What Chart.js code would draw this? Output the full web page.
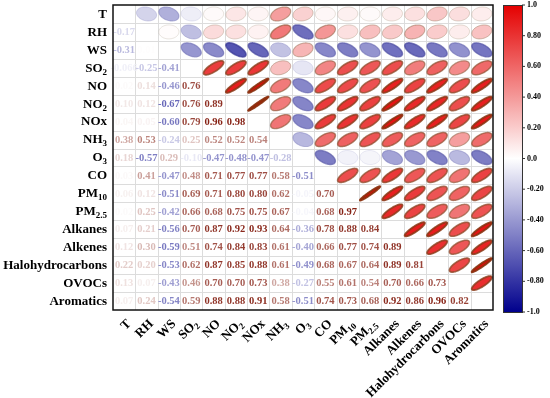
<!DOCTYPE html>
<html>
<head>
<meta charset="utf-8">
<script src="https://cdn.jsdelivr.net/npm/chart.js@4.4.1/dist/chart.umd.min.js"></script>
<style>
  html, body { margin: 0; padding: 0; background: #ffffff; }
  #wrap { width: 550px; height: 398px; }
</style>
</head>
<body>
<div id="wrap"><canvas id="c" width="550" height="398"></canvas></div>
<script>
// ---- data ----
const varNames = ['T','RH','WS','SO2','NO','NO2','NOx','NH3','O3','CO','PM10','PM2.5','Alkanes','Alkenes','Halohydrocarbons','OVOCs','Aromatics'];
const labelMain = ['T','RH','WS','SO','NO','NO','NOx','NH','O','CO','PM','PM','Alkanes','Alkenes','Halohydrocarbons','OVOCs','Aromatics'];
const labelSub  = ['','','','2','','2','','3','3','','10','2.5','','','','',''];

// lower triangle correlation rows (row i, columns 0..i-1)
const rowRH   = [-0.17];
const rowWS   = [-0.31, 0.01];
const rowSO2  = [-0.066, -0.25, -0.41];
const rowNO   = [0.02, 0.14, -0.46, 0.76];
const rowNO2  = [0.10, 0.12, -0.67, 0.76, 0.89];
const rowNOx  = [0.04, 0.05, -0.60, 0.79, 0.96, 0.98];
const rowNH3  = [0.38, 0.53, -0.24, 0.25, 0.52, 0.52, 0.54];
const rowO3   = [0.18, -0.57, 0.29, -0.10, -0.47, -0.48, -0.47, -0.28];
const rowCO   = [0.03, 0.41, -0.47, 0.48, 0.71, 0.77, 0.77, 0.58, -0.51];
const rowPM10 = [0.06, 0.12, -0.51, 0.69, 0.71, 0.80, 0.80, 0.62, -0.05, 0.70];
const rowPM25 = [0.02, 0.25, -0.42, 0.66, 0.68, 0.75, 0.75, 0.67, -0.04, 0.68, 0.97];
const rowAlka = [0.07, 0.21, -0.56, 0.70, 0.87, 0.92, 0.93, 0.64, -0.36, 0.78, 0.88, 0.84];
const rowAlke = [0.12, 0.30, -0.59, 0.51, 0.74, 0.84, 0.83, 0.61, -0.40, 0.66, 0.77, 0.74, 0.89];
const rowHalo = [0.22, 0.20, -0.53, 0.62, 0.87, 0.85, 0.88, 0.61, -0.49, 0.68, 0.67, 0.64, 0.89, 0.81];
const rowOVOC = [0.13, 0.07, -0.43, 0.46, 0.70, 0.70, 0.73, 0.38, -0.27, 0.55, 0.61, 0.54, 0.70, 0.66, 0.73];
const rowArom = [0.07, 0.24, -0.54, 0.59, 0.88, 0.88, 0.91, 0.58, -0.51, 0.74, 0.73, 0.68, 0.92, 0.86, 0.96, 0.82];
const lowerRows = [[], rowRH, rowWS, rowSO2, rowNO, rowNO2, rowNOx, rowNH3, rowO3, rowCO, rowPM10, rowPM25, rowAlka, rowAlke, rowHalo, rowOVOC, rowArom];

const colorbarTicks = [1.0, 0.8, 0.6, 0.4, 0.2, 0.0, -0.2, -0.4, -0.6, -0.8, -1.0];
const colorbarTickLabels = ['1.0','0.80','0.60','0.40','0.20','0.0','-0.20','-0.40','-0.60','-0.80','-1.0'];

// ---- build point lists ----
const N = varNames.length;
const ellipsePts = [];
const textPts = [];
for (let i = 1; i < N; i++) {
  for (let j = 0; j < i; j++) {
    const v = lowerRows[i][j];
    textPts.push({x: j + 0.5, y: i + 0.5, r: v});
    ellipsePts.push({x: i + 0.5, y: j + 0.5, r: v});
  }
}

// ---- colours ----
const POS = [228, 0, 0], NEG = [0, 0, 140];
const TPOS = [135, 35, 22], TNEG = [40, 40, 155];
function mix(c, t) {
  return [Math.round(255 + (c[0] - 255) * t), Math.round(255 + (c[1] - 255) * t), Math.round(255 + (c[2] - 255) * t)];
}
function rgb(a, alpha) { return alpha === undefined ? `rgb(${a[0]},${a[1]},${a[2]})` : `rgba(${a[0]},${a[1]},${a[2]},${alpha})`; }
function fillColor(v) { return mix(v >= 0 ? POS : NEG, Math.abs(v)); }
function textColor(v) { return rgb(mix(v >= 0 ? TPOS : TNEG, Math.min(1, Math.abs(v) * 1.05))); }
function fmt(v) {
  const h = v * 100;
  return Math.abs(Math.round(h) - h) > 1e-6 ? v.toFixed(3) : v.toFixed(2);
}

const FONT = '"Liberation Serif", "Times New Roman", serif';

function drawSubLabel(ctx, main, sub, x, y, align) {
  ctx.font = 'bold 13px ' + FONT;
  const wm = ctx.measureText(main).width;
  ctx.font = 'bold 9px ' + FONT;
  const ws = sub ? ctx.measureText(sub).width : 0;
  const total = wm + ws;
  let x0 = align === 'right' ? x - total : x;
  ctx.textAlign = 'left';
  ctx.textBaseline = 'middle';
  ctx.font = 'bold 13px ' + FONT;
  ctx.fillText(main, x0, y);
  if (sub) {
    ctx.font = 'bold 9px ' + FONT;
    ctx.fillText(sub, x0 + wm, y + 4);
  }
}

const corrPlugin = {
  id: 'corr',
  beforeDatasetsDraw(chart) {
    const ctx = chart.ctx;
    const xs = chart.scales.x, ys = chart.scales.y;
    ctx.save();
    ctx.strokeStyle = '#dcdcdc';
    ctx.lineWidth = 1;
    for (let k = 1; k < N; k++) {
      const px = Math.round(xs.getPixelForValue(k)) + 0.5;
      ctx.beginPath(); ctx.moveTo(px, ys.getPixelForValue(0)); ctx.lineTo(px, ys.getPixelForValue(N)); ctx.stroke();
      const py = Math.round(ys.getPixelForValue(k)) + 0.5;
      ctx.beginPath(); ctx.moveTo(xs.getPixelForValue(0), py); ctx.lineTo(xs.getPixelForValue(N), py); ctx.stroke();
    }
    ctx.restore();
  },
  afterDatasetsDraw(chart) {
    const ctx = chart.ctx;
    const xs = chart.scales.x, ys = chart.scales.y;
    const hw = Math.abs(xs.getPixelForValue(1) - xs.getPixelForValue(0)) / 2;
    const hh = Math.abs(ys.getPixelForValue(1) - ys.getPixelForValue(0)) / 2;
    ctx.save();
    // ellipses
    const m0 = chart.getDatasetMeta(0);
    m0.data.forEach((el, k) => {
      const v = chart.data.datasets[0].data[k].r;
      const d = Math.acos(Math.max(-1, Math.min(1, v)));
      ctx.beginPath();
      for (let s = 0; s <= 72; s++) {
        const t = s / 72 * Math.PI * 2;
        const px = el.x + hw * 0.9 * Math.cos(t + d / 2);
        const py = el.y - hh * 0.78 * Math.cos(t - d / 2);
        if (s === 0) ctx.moveTo(px, py); else ctx.lineTo(px, py);
      }
      ctx.closePath();
      const c = fillColor(v);
      ctx.fillStyle = rgb(c);
      ctx.fill();
      const a = Math.abs(v);
      const dk = v >= 0 ? [Math.round(c[0] * 0.6), Math.round(c[1] * 0.55 + 45 * a), Math.round(c[2] * 0.45 + 10 * a)] : [Math.round(c[0] * 0.7), Math.round(c[1] * 0.7), Math.round(c[2] * 0.85)];
      ctx.strokeStyle = rgb(dk, 0.35 + 0.6 * a);
      ctx.lineWidth = 0.6 + 1.5 * a;
      ctx.stroke();
    });
    // numbers
    const m1 = chart.getDatasetMeta(1);
    ctx.textAlign = 'center';
    ctx.textBaseline = 'middle';
    ctx.font = 'bold 10.5px ' + FONT;
    m1.data.forEach((el, k) => {
      const v = chart.data.datasets[1].data[k].r;
      ctx.fillStyle = textColor(v);
      ctx.fillText(fmt(v), el.x, el.y + 0.5);
    });
    // frame
    const ca = chart.chartArea;
    ctx.strokeStyle = '#111';
    ctx.lineWidth = 1.5;
    ctx.strokeRect(ca.left, ca.top, ca.right - ca.left, ca.bottom - ca.top);
    // row labels
    ctx.fillStyle = '#000';
    for (let i = 0; i < N; i++) {
      drawSubLabel(ctx, labelMain[i], labelSub[i], ca.left - 6, ys.getPixelForValue(i + 0.5) + 0.5, 'right');
    }
    // column labels (rotated)
    for (let j = 0; j < N; j++) {
      const cx = xs.getPixelForValue(j + 0.5);
      ctx.save();
      ctx.translate(cx + 5, ca.bottom + 12);
      ctx.rotate(-Math.PI / 4);
      drawSubLabel(ctx, labelMain[j], labelSub[j], 0, 0, 'right');
      ctx.restore();
    }
    // colour bar
    const bx = 503, bw = 19, bt = 5, bb = 312;
    const g = ctx.createLinearGradient(0, bt, 0, bb);
    for (let s = 0; s <= 20; s++) {
      const v = 1 - s / 10;
      g.addColorStop(s / 20, rgb(fillColor(v)));
    }
    ctx.fillStyle = g;
    ctx.fillRect(bx, bt, bw, bb - bt);
    ctx.strokeStyle = '#333';
    ctx.lineWidth = 1;
    ctx.strokeRect(bx + 0.5, bt + 0.5, bw, bb - bt);
    ctx.fillStyle = '#000';
    ctx.font = 'bold 8px ' + FONT;
    ctx.textAlign = 'left';
    ctx.textBaseline = 'middle';
    colorbarTicks.forEach((v, k) => {
      const py = bt + (1 - v) / 2 * (bb - bt);
      ctx.beginPath(); ctx.moveTo(bx + bw, py); ctx.lineTo(bx + bw + 3, py); ctx.stroke();
      ctx.fillText(colorbarTickLabels[k], bx + bw + 5, py);
    });
    ctx.restore();
  }
};

new Chart(document.getElementById('c'), {
  type: 'scatter',
  data: {
    datasets: [
      { label: 'ellipses', data: ellipsePts, pointRadius: 0, pointHoverRadius: 0 },
      { label: 'values', data: textPts, pointRadius: 0, pointHoverRadius: 0 }
    ]
  },
  options: {
    responsive: false,
    animation: false,
    events: [],
    layout: { padding: { left: 113, right: 57, top: 5, bottom: 88 } },
    plugins: { legend: { display: false }, tooltip: { enabled: false } },
    scales: {
      x: { type: 'linear', min: 0, max: N, display: false },
      y: { type: 'linear', min: 0, max: N, reverse: true, display: false }
    }
  },
  plugins: [corrPlugin]
});
</script>
</body>
</html>
